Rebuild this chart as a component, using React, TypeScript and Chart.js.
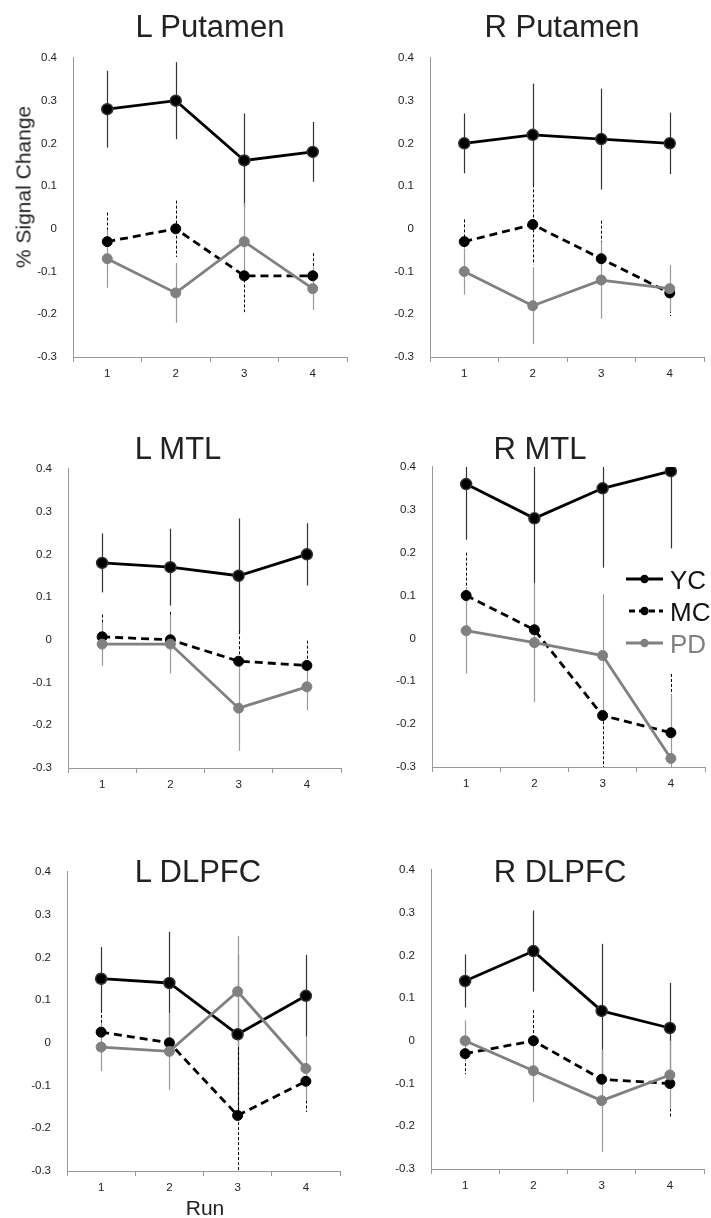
import React, { useEffect, useRef } from "react";
import { Chart, registerables } from "chart.js";

Chart.register(...registerables);

// ---------- data ----------
const runLabels = ["1", "2", "3", "4"];
const seriesNames = ["YC", "MC", "PD"];
const panelTitles = ["L Putamen", "R Putamen", "L MTL", "R MTL", "L DLPFC", "R DLPFC"];
const yAxisTitle = "% Signal Change";
const xAxisTitle = "Run";
const yMin = -0.3;
const yMax = 0.4;
const yStep = 0.1;

// L Putamen
const lPutamenYC = [0.28, 0.30, 0.16, 0.18];
const lPutamenYCErr = [0.09, 0.09, 0.11, 0.07];
const lPutamenMC = [-0.03, 0.0, -0.11, -0.11];
const lPutamenMCErr = [0.068, 0.066, 0.085, 0.053];
const lPutamenPD = [-0.07, -0.15, -0.03, -0.14];
const lPutamenPDErr = [0.068, 0.07, 0.09, 0.05];

// R Putamen
const rPutamenYC = [0.20, 0.22, 0.21, 0.20];
const rPutamenYCErr = [0.07, 0.12, 0.118, 0.072];
const rPutamenMC = [-0.03, 0.01, -0.07, -0.15];
const rPutamenMCErr = [0.052, 0.094, 0.089, 0.054];
const rPutamenPD = [-0.10, -0.18, -0.12, -0.14];
const rPutamenPDErr = [0.054, 0.09, 0.09, 0.055];

// L MTL
const lMtlYC = [0.18, 0.17, 0.15, 0.20];
const lMtlYCErr = [0.069, 0.09, 0.134, 0.073];
const lMtlMC = [0.007, 0.0, -0.05, -0.06];
const lMtlMCErr = [0.052, 0.065, 0.07, 0.058];
const lMtlPD = [-0.01, -0.01, -0.16, -0.11];
const lMtlPDErr = [0.051, 0.069, 0.1, 0.055];

// R MTL
const rMtlYC = [0.36, 0.28, 0.35, 0.39];
const rMtlYCErr = [0.13, 0.15, 0.185, 0.18];
const rMtlMC = [0.10, 0.02, -0.18, -0.22];
const rMtlMCErr = [0.1, 0.11, 0.15, 0.137];
const rMtlPD = [0.018, -0.01, -0.04, -0.28];
const rMtlPDErr = [0.1, 0.139, 0.143, 0.15];

// L DLPFC
const lDlpfcYC = [0.15, 0.14, 0.02, 0.11];
const lDlpfcYCErr = [0.074, 0.12, 0.186, 0.096];
const lDlpfcMC = [0.025, 0.0, -0.17, -0.09];
const lDlpfcMCErr = [0.052, 0.06, 0.16, 0.072];
const lDlpfcPD = [-0.01, -0.02, 0.12, -0.06];
const lDlpfcPDErr = [0.056, 0.09, 0.13, 0.075];

// R DLPFC
const rDlpfcYC = [0.14, 0.21, 0.07, 0.03];
const rDlpfcYCErr = [0.062, 0.095, 0.157, 0.106];
const rDlpfcMC = [-0.03, 0.0, -0.09, -0.10];
const rDlpfcMCErr = [0.048, 0.072, 0.07, 0.082];
const rDlpfcPD = [0.0, -0.07, -0.14, -0.08];
const rDlpfcPDErr = [0.048, 0.073, 0.12, 0.08];

const panelValues = [
  [lPutamenYC, lPutamenMC, lPutamenPD],
  [rPutamenYC, rPutamenMC, rPutamenPD],
  [lMtlYC, lMtlMC, lMtlPD],
  [rMtlYC, rMtlMC, rMtlPD],
  [lDlpfcYC, lDlpfcMC, lDlpfcPD],
  [rDlpfcYC, rDlpfcMC, rDlpfcPD],
];
const panelErrors = [
  [lPutamenYCErr, lPutamenMCErr, lPutamenPDErr],
  [rPutamenYCErr, rPutamenMCErr, rPutamenPDErr],
  [lMtlYCErr, lMtlMCErr, lMtlPDErr],
  [rMtlYCErr, rMtlMCErr, rMtlPDErr],
  [lDlpfcYCErr, lDlpfcMCErr, lDlpfcPDErr],
  [rDlpfcYCErr, rDlpfcMCErr, rDlpfcPDErr],
];

// ---------- layout & style ----------
const Y_W = 60;
const X_H = 30;
const PAD_T = 20;
const PAD_R = 4;

const panelAreas = [
  { l: 73, t: 55, r: 350, b: 357, tx: 210, tb: 37 },
  { l: 430, t: 55, r: 707, b: 357, tx: 562, tb: 37 },
  { l: 68, t: 466, r: 344, b: 768, tx: 178, tb: 459 },
  { l: 432, t: 464, r: 708, b: 767, tx: 540, tb: 459 },
  { l: 67, t: 869, r: 343, b: 1171, tx: 198, tb: 882 },
  { l: 431, t: 867, r: 707, b: 1169, tx: 560, tb: 882 },
];
const LEGEND_PANEL = 3;
const legendPos = { x: 626, rows: [579, 611, 643], textX: 670 };

const seriesStyles = [
  { color: "#000", width: 2.8, dash: [], pointR: 5.5, pointFill: "#000", pointBorder: "#333", pointBorderW: 1.5, errColor: "#333", errDash: [], errW: 1.2, text: "#111" },
  { color: "#000", width: 2.8, dash: [8, 5], pointR: 5, pointFill: "#000", pointBorder: "#000", pointBorderW: 1, errColor: "#000", errDash: [3, 2], errW: 1, text: "#111" },
  { color: "#808080", width: 2.8, dash: [], pointR: 5, pointFill: "#808080", pointBorder: "#808080", pointBorderW: 1, errColor: "#9a9a9a", errDash: [], errW: 1.2, text: "#808080" },
];

const FONT = "'Liberation Sans', Arial, sans-serif";

const errorBarPlugin = {
  id: "errorBars",
  beforeDatasetsDraw(chart: any) {
    const { ctx, chartArea } = chart;
    ctx.save();
    ctx.beginPath();
    ctx.rect(chartArea.left, chartArea.top, chartArea.right - chartArea.left, chartArea.bottom - chartArea.top);
    ctx.clip();
    const yScale = chart.scales.y;
    chart.data.datasets.forEach((ds: any, di: number) => {
      const meta = chart.getDatasetMeta(di);
      ctx.strokeStyle = ds.errColor;
      ctx.lineWidth = ds.errW;
      ctx.setLineDash(ds.errDash);
      ds.data.forEach((v: number, i: number) => {
        const e = ds.errors[i];
        const px = Math.round(meta.data[i].x) + 0.5;
        ctx.beginPath();
        ctx.moveTo(px, yScale.getPixelForValue(v + e));
        ctx.lineTo(px, yScale.getPixelForValue(v - e));
        ctx.stroke();
      });
    });
    ctx.restore();
  },
};

const seriesLegendPlugin = {
  id: "seriesLegend",
  afterDraw(chart: any, _args: any, opts: any) {
    if (!opts || !opts.show) return;
    const { ctx } = chart;
    ctx.save();
    chart.data.datasets.forEach((ds: any, di: number) => {
      const y = opts.rows[di];
      ctx.strokeStyle = ds.borderColor;
      ctx.lineWidth = ds.borderWidth;
      ctx.setLineDash(di === 1 ? [6, 4] : []);
      ctx.beginPath();
      ctx.moveTo(opts.x + (di === 1 ? 3 : 0), y);
      ctx.lineTo(opts.x + 37, y);
      ctx.stroke();
      ctx.setLineDash([]);
      ctx.fillStyle = ds.pointBackgroundColor;
      ctx.beginPath();
      ctx.arc(opts.x + 18.5, y, 4.2, 0, Math.PI * 2);
      ctx.fill();
      ctx.fillStyle = ds.textColor;
      ctx.font = `26px ${FONT}`;
      ctx.textBaseline = "alphabetic";
      ctx.textAlign = "left";
      ctx.fillText(ds.label, opts.textX, y + 9.5);
    });
    ctx.restore();
  },
};

Chart.register(errorBarPlugin, seriesLegendPlugin);

function fmtTick(v: any) {
  const n = Math.round(Number(v) * 10) / 10;
  return n === 0 ? "0" : String(n);
}

function Panel({ idx }: { idx: number }) {
  const ref = useRef<HTMLCanvasElement | null>(null);
  const a = panelAreas[idx];
  const left = a.l - Y_W;
  const top = a.t - PAD_T;
  const w = a.r - a.l + Y_W + PAD_R;
  const h = a.b - a.t + PAD_T + X_H;

  useEffect(() => {
    if (!ref.current) return;
    const datasets = panelValues[idx].map((vals, k) => {
      const s = seriesStyles[k];
      return {
        label: seriesNames[k],
        data: vals,
        errors: panelErrors[idx][k],
        borderColor: s.color,
        borderWidth: s.width,
        borderDash: s.dash,
        pointRadius: s.pointR,
        pointBackgroundColor: s.pointFill,
        pointBorderColor: s.pointBorder,
        pointBorderWidth: s.pointBorderW,
        pointHoverRadius: s.pointR,
        tension: 0,
        fill: false,
        order: 3 - k,
        errColor: s.errColor,
        errDash: s.errDash,
        errW: s.errW,
        textColor: s.text,
      };
    });
    const legendOpts =
      idx === LEGEND_PANEL
        ? { show: true, x: legendPos.x - left, textX: legendPos.textX - left, rows: legendPos.rows.map((r) => r - top) }
        : { show: false };
    const chart = new Chart(ref.current, {
      type: "line",
      data: { labels: runLabels, datasets: datasets as any },
      options: {
        responsive: false,
        maintainAspectRatio: false,
        animation: false,
        events: [],
        layout: { padding: { top: PAD_T, right: PAD_R, left: 0, bottom: 0 } },
        plugins: {
          legend: { display: false },
          tooltip: { enabled: false },
          title: { display: false },
          seriesLegend: legendOpts,
        } as any,
        scales: {
          x: {
            type: "category",
            offset: true,
            grid: { display: true, drawOnChartArea: false, drawTicks: true, tickLength: 5, color: "#999", offset: true },
            border: { color: "#999", width: 1 },
            ticks: { font: { family: FONT, size: 11.5 }, color: "#222", padding: 5, maxRotation: 0 },
            afterFit: (s: any) => {
              s.height = X_H;
            },
          },
          y: {
            type: "linear",
            min: yMin,
            max: yMax,
            grid: { display: false, drawTicks: false },
            border: { color: "#999", width: 1 },
            ticks: { stepSize: yStep, font: { family: FONT, size: 11.5 }, color: "#222", padding: 16, callback: fmtTick },
            afterFit: (s: any) => {
              s.width = Y_W;
            },
          },
        },
      } as any,
    });
    return () => chart.destroy();
  }, [idx]);

  return (
    <canvas
      ref={ref}
      width={w}
      height={h}
      style={{ position: "absolute", left, top, width: w, height: h, display: "block" }}
    />
  );
}

export default function App() {
  return (
    <div style={{ position: "absolute", left: 0, top: 0, width: 711, height: 1218, background: "#fff", overflow: "hidden", fontFamily: FONT }}>
      {panelAreas.map((_, i) => (
        <Panel key={i} idx={i} />
      ))}
      {panelAreas.map((a, i) => (
        <div
          key={"t" + i}
          style={{
            position: "absolute",
            left: a.tx - 150,
            width: 300,
            top: a.tb - 26.3,
            textAlign: "center",
            fontSize: 31,
            lineHeight: "31px",
            color: "#222",
            whiteSpace: "nowrap",
          }}
        >
          {panelTitles[i]}
        </div>
      ))}
      <div
        style={{
          position: "absolute",
          left: 23,
          top: 187,
          transform: "translate(-50%, -50%) rotate(-90deg)",
          fontSize: 21,
          lineHeight: "21px",
          color: "#222",
          whiteSpace: "nowrap",
        }}
      >
        {yAxisTitle}
      </div>
      <div
        style={{
          position: "absolute",
          left: 205 - 50,
          width: 100,
          top: 1197,
          textAlign: "center",
          fontSize: 21,
          lineHeight: "21px",
          color: "#222",
        }}
      >
        {xAxisTitle}
      </div>
    </div>
  );
}
